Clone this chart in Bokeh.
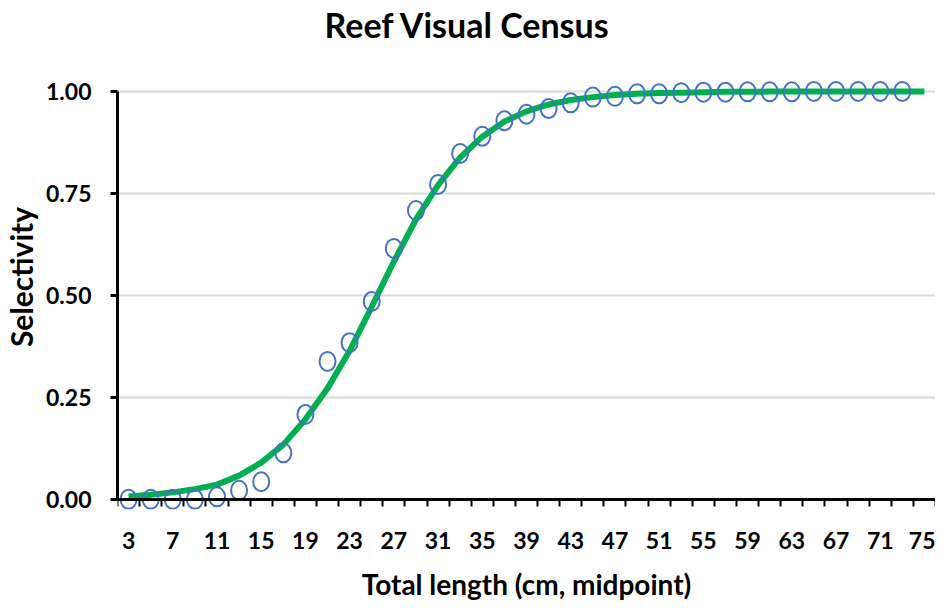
from bokeh.plotting import figure
from bokeh.models import Range1d, FixedTicker, PrintfTickFormatter, LinearAxis, Title
from bokeh.embed import file_html
from bokeh.resources import INLINE

# ---- data ----
lengths_fit = [3, 5, 7, 9, 11, 13, 15, 17, 19, 21, 23, 25, 27, 29, 31, 33, 35, 37, 39,
               41, 43, 45, 47, 49, 51, 53, 55, 57, 59, 61, 63, 65, 67, 69, 71, 73, 75]
selectivity_fit = [0.007, 0.011, 0.017, 0.025, 0.036, 0.058, 0.090, 0.134, 0.196, 0.272,
                   0.364, 0.472, 0.583, 0.686, 0.770, 0.838, 0.889, 0.926, 0.951, 0.968,
                   0.979, 0.986, 0.991, 0.994, 0.996, 0.997, 0.998, 0.999, 0.999, 0.9995,
                   0.9997, 0.9998, 0.9999, 0.9999, 1.0, 1.0, 1.0]

lengths_obs = [3, 5, 7, 9, 11, 13, 15, 17, 19, 21, 23, 25, 27, 29, 31, 33, 35, 37,
               39, 41, 43, 45, 47, 49, 51, 53, 55, 57, 59, 61, 63, 65, 67, 69, 71, 73]
selectivity_obs = [0.0, 0.0, 0.0, 0.0, 0.006, 0.022, 0.043, 0.114, 0.208, 0.338, 0.384,
                   0.485, 0.615, 0.708, 0.772, 0.848, 0.890, 0.928, 0.944, 0.958, 0.972,
                   0.986, 0.988, 0.994, 0.994, 0.997, 0.998, 0.998, 0.999, 0.999, 0.999,
                   1.0, 1.0, 1.0, 1.0, 1.0]

x_tick_labels = [3, 7, 11, 15, 19, 23, 27, 31, 35, 39, 43, 47, 51, 55, 59, 63, 67, 71, 75]
y_ticks = [0.0, 0.25, 0.5, 0.75, 1.0]

title_text = "Reef Visual Census"
x_title = "Total length (cm, midpoint)"
y_title = "Selectivity"

# category boundaries (Excel category axis: ticks between categories)
cat_bounds = [c - 1 for c in lengths_fit] + [lengths_fit[-1] + 1]

FONT = "Lato"

# the frame reaches up to the title; the y axis itself is bounded to 0..1
p = figure(width=935, height=608, output_backend="svg", toolbar_location=None,
           x_range=Range1d(cat_bounds[0], cat_bounds[-1]), y_range=Range1d(-0.025, 1.115),
           min_border_left=109, min_border_right=0, min_border_top=44, min_border_bottom=99)
p.outline_line_color = None
p.background_fill_color = "white"
p.border_fill_color = "white"

p.title.text = title_text
p.title.text_font = FONT
p.title.text_font_style = "bold"
p.title.text_font_size = "34px"
p.title.text_color = "black"
p.title.align = "left"
p.title.offset = 207
p.title.standoff = 0

p.xgrid.visible = False
p.ygrid.ticker = FixedTicker(ticks=y_ticks[1:])
p.ygrid.grid_line_color = "#D9D9D9"
p.ygrid.grid_line_width = 2

# y axis
ya = p.yaxis[0]
ya.ticker = FixedTicker(ticks=y_ticks)
ya.formatter = PrintfTickFormatter(format="%.2f")
ya.bounds = (0, 1)
ya.axis_line_width = 3
ya.axis_line_color = "black"
ya.major_tick_line_width = 3
ya.major_tick_line_color = "black"
ya.major_tick_out = 7
ya.major_tick_in = 0
ya.minor_tick_line_color = None
ya.major_label_text_font = FONT
ya.major_label_text_font_style = "bold"
ya.major_label_text_font_size = "23px"
ya.major_label_text_color = "black"
ya.major_label_standoff = 19
ya.axis_label = y_title
ya.axis_label_text_font = FONT
ya.axis_label_text_font_style = "bold"
ya.axis_label_text_font_size = "30px"
ya.axis_label_text_color = "black"
ya.axis_label_standoff = 4

# x axis line + tick marks (between categories), fixed at y = 0
xa = p.xaxis[0]
xa.ticker = FixedTicker(ticks=[], minor_ticks=cat_bounds)
xa.fixed_location = 0
xa.bounds = (cat_bounds[0], cat_bounds[-1])
xa.axis_line_width = 3
xa.axis_line_color = "black"
xa.major_tick_line_color = None
xa.major_tick_out = 0
xa.major_tick_in = 0
xa.minor_tick_line_color = "black"
xa.minor_tick_line_width = 2
xa.minor_tick_out = 7
xa.minor_tick_in = 0
xa.major_label_standoff = 0

# x tick labels + axis title
xl = LinearAxis(ticker=FixedTicker(ticks=x_tick_labels))
xl.axis_line_color = None
xl.major_tick_line_color = None
xl.minor_tick_line_color = None
xl.major_tick_out = 0
xl.minor_tick_out = 0
xl.major_label_text_font = FONT
xl.major_label_text_font_style = "bold"
xl.major_label_text_font_size = "23px"
xl.major_label_text_color = "black"
xl.major_label_standoff = 22
xl.axis_label = x_title
xl.axis_label_text_font = FONT
xl.axis_label_text_font_style = "bold"
xl.axis_label_text_font_size = "28px"
xl.axis_label_text_color = "black"
xl.axis_label_standoff = 15
p.add_layout(xl, "below")

p.line(lengths_fit, selectivity_fit, line_color="#00B050", line_width=6, line_join="round")
p.ellipse(x=lengths_obs, y=selectivity_obs, width=16, height=19,
          width_units="screen", height_units="screen",
          fill_color=None, line_color="#4472C4", line_width=2)

open("out.html", "w").write(file_html(p, INLINE))
